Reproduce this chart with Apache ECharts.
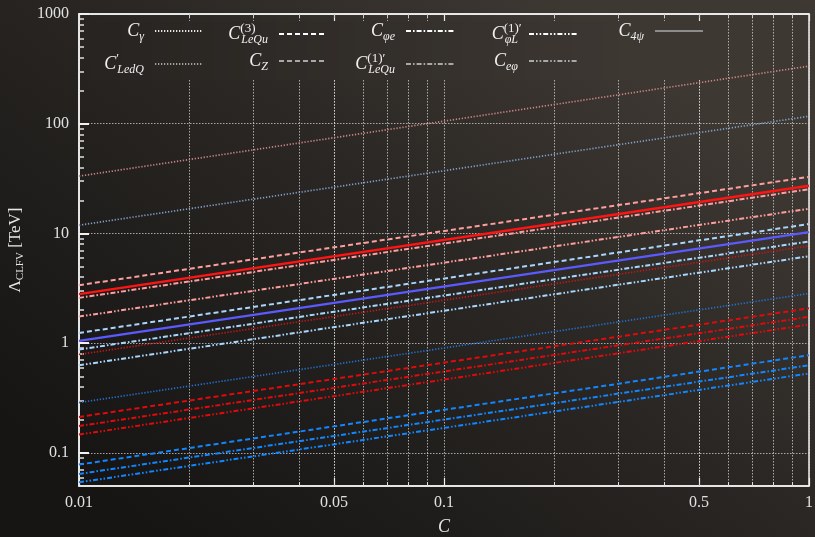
<!DOCTYPE html>
<html><head><meta charset="utf-8">
<script src="https://cdn.jsdelivr.net/npm/echarts@6/dist/echarts.min.js"></script>
<style>html,body{margin:0;padding:0;background:#1e1c1a}#chart{width:815px;height:537px}</style>
</head><body><div id="chart"></div>
<script>
// ---- data (value of Lambda_CLFV [TeV] at C = 0.01 and C = 1) ----
const cEnds = [0.01, 1];
const roseDotted      = [33.3, 335];
const steelDotted     = [11.9, 117];
const pinkDashed      = [3.38, 32.8];
const redSolid        = [2.8, 27.2];
const pinkDashDot     = [2.59, 25.3];
const pinkDashDotDot  = [1.75, 16.8];
const skyDashed       = [1.24, 12.2];
const violetSolid     = [1.05, 10.3];
const skyDashDot      = [0.877, 8.45];
const darkRedDotted   = [0.79, 7.7];
const skyDashDotDot   = [0.63, 6.2];
const blueDotted      = [0.288, 2.84];
const redDashed       = [0.213, 2.08];
const redDashDot      = [0.176, 1.74];
const redDashDotDot   = [0.147, 1.48];
const azureDashed     = [0.0784, 0.778];
const azureDashDot    = [0.0644, 0.63];
const azureDashDotDot = [0.054, 0.53];

const xLabelValues = [0.01, 0.05, 0.1, 0.5, 1];
const yLabelValues = [0.1, 1, 10, 100, 1000];
const legendRow1 = ['Cγ', 'C(3)LeQu', 'Cφe', 'C(1)′φL', 'C4ψ'];
const legendRow2 = ['C′LedQ', 'CZ', 'C(1)′LeQu', 'Ceφ'];

// ---- styles ----
const SERIF = 'Liberation Serif';
const DOT = [1.3, 1.7];
const DASH = [5, 3];
const DASHDOT = [5, 2, 1.6, 2];
const DASHDOTDOT = [5, 2, 1.6, 2, 1.6, 2];

const lines = [
  ['rose dotted', roseDotted, '#c88282', DOT, 1.7],
  ['steel dotted', steelDotted, '#7c9cc4', DOT, 1.7],
  ['pink dashed', pinkDashed, '#ff9e9e', DASH, 2],
  ['red solid', redSolid, '#ff1414', 'solid', 2.4],
  ['pink dashdot', pinkDashDot, '#ff9e9e', DASHDOT, 2],
  ['pink dashdotdot', pinkDashDotDot, '#ff9e9e', DASHDOTDOT, 2],
  ['sky dashed', skyDashed, '#a8d6ff', DASH, 2],
  ['violet solid', violetSolid, '#5a5aff', 'solid', 2.2],
  ['sky dashdot', skyDashDot, '#a8d6ff', DASHDOT, 2],
  ['darkred dotted', darkRedDotted, '#c01818', DOT, 1.7],
  ['sky dashdotdot', skyDashDotDot, '#a8d6ff', DASHDOTDOT, 2],
  ['blue dotted', blueDotted, '#226fcc', DOT, 1.7],
  ['red dashed', redDashed, '#e00a0a', DASH, 2],
  ['red dashdot', redDashDot, '#e00a0a', DASHDOT, 2],
  ['red dashdotdot', redDashDotDot, '#e00a0a', DASHDOTDOT, 2],
  ['azure dashed', azureDashed, '#1286ff', DASH, 2],
  ['azure dashdot', azureDashDot, '#1286ff', DASHDOT, 2],
  ['azure dashdotdot', azureDashDotDot, '#1286ff', DASHDOTDOT, 2]
];

const legendStyles = {
  'Cγ': ['#e6e6e6', DOT, 1.6],
  'C(3)LeQu': ['#ffffff', DASH, 2],
  'Cφe': ['#ffffff', DASHDOT, 2],
  'C(1)′φL': ['#ffffff', DASHDOTDOT, 2],
  'C4ψ': ['#8c8c8c', 'solid', 2],
  'C′LedQ': ['#a0a0a0', DOT, 1.4],
  'CZ': ['#a8a8a8', DASH, 1.4],
  'C(1)′LeQu': ['#a8a8a8', DASHDOT, 1.4],
  'Ceφ': ['#a8a8a8', DASHDOTDOT, 1.4]
};
const legendText = {
  'Cγ': '{c|C}{sub|γ}',
  'C(3)LeQu': '{c|C}{sup|(3)}{sub|LeQu}',
  'Cφe': '{c|C}{sub|φe}',
  'C(1)′φL': '{c|C}{sup|(1)′}{sub|φL}',
  'C4ψ': '{c|C}{sub|4ψ}',
  'C′LedQ': '{c|C}{sup|′}{sub|LedQ}',
  'CZ': '{c|C}{sub|Z}',
  'C(1)′LeQu': '{c|C}{sup|(1)′}{sub|LeQu}',
  'Ceφ': '{c|C}{sub|eφ}'
};
const richLegend = {
  c: {fontFamily: SERIF, fontStyle: 'italic', fontSize: 18, color: '#f0f0f0', lineHeight: 24, align: 'left'},
  sub: {fontFamily: SERIF, fontStyle: 'italic', fontSize: 12, color: '#f0f0f0', verticalAlign: 'bottom', align: 'left'},
  sup: {fontFamily: SERIF, fontSize: 13, color: '#f0f0f0', verticalAlign: 'top', width: 1, align: 'left'}
};

const W = 815, H = 537;
const bgStops = [
  {offset: 0, color: '#3e3833'},
  {offset: 0.45, color: '#282522'},
  {offset: 1, color: '#161514'}
];
// page background gradient axis (same as backgroundColor below)
const gx0 = 0.7 * W, gy0 = 0, gx1 = 0.2 * W, gy1 = H;
function hexRgb(h) { return [1, 3, 5].map(i => parseInt(h.substr(i, 2), 16)); }
function bgAt(x, y) {
  const dx = gx1 - gx0, dy = gy1 - gy0;
  let t = ((x - gx0) * dx + (y - gy0) * dy) / (dx * dx + dy * dy);
  t = Math.max(0, Math.min(1, t));
  let k = 0;
  while (k < bgStops.length - 2 && t > bgStops[k + 1].offset) k++;
  const a = bgStops[k], b = bgStops[k + 1];
  const f = (t - a.offset) / (b.offset - a.offset);
  const ca = hexRgb(a.color), cb = hexRgb(b.color);
  return 'rgb(' + ca.map((v, i) => Math.round(v + (cb[i] - v) * f)).join(',') + ')';
}
// legend frame: filled like the page background (no border), hides the grid behind the legend
const frame = {x: 90, y: 21, w: 622, h: 59};
const strips = 40;
const frameRects = [];
for (let i = 0; i < strips; i++) {
  const x0 = frame.x + Math.floor(frame.w * i / strips);
  const x1 = frame.x + Math.floor(frame.w * (i + 1) / strips);
  frameRects.push({
    type: 'rect', silent: true, z: 10,
    left: x0, top: frame.y,
    shape: {width: x1 - x0 + 0.6, height: frame.h},
    style: {fill: bgAt((x0 + x1) / 2, frame.y + frame.h / 2)}
  });
}

const iconRights = [204, 328, 455, 578, 704];
const legends = [];
legendRow1.forEach((n, i) => legends.push({row: 0, name: n, right: W - iconRights[i]}));
legendRow2.forEach((n, i) => legends.push({row: 1, name: n, right: W - iconRights[i]}));

const legendOpts = legends.map(l => ({
  data: [l.name],
  right: l.right,
  top: l.row === 0 ? 22 : 52,
  padding: 0,
  align: 'right',
  itemWidth: 48,
  itemHeight: 10,
  selectedMode: false,
  z: 12,
  itemStyle: {opacity: 0},
  formatter: n => legendText[n],
  textStyle: {color: '#f0f0f0', rich: richLegend, padding: [0, 6, 0, 0]}
}));

const series = lines.map(([name, vals, color, type, width]) => ({
  name: name,
  type: 'line',
  data: cEnds.map((c, i) => [c, vals[i]]),
  showSymbol: false,
  symbol: 'none',
  silent: true,
  lineStyle: {color: color, type: type, width: width, cap: 'butt'},
  itemStyle: {color: color},
  z: 3
}));
Object.keys(legendStyles).forEach(n => {
  const [color, type, width] = legendStyles[n];
  series.push({
    name: n, type: 'line', data: [], symbol: 'none', showSymbol: false,
    lineStyle: {color: color, type: type, width: width, cap: 'butt'},
    itemStyle: {color: color, opacity: 0}
  });
});

const gridDot = {color: 'rgba(225,225,225,0.7)', type: [1.5, 1.5], width: 1};
const fmt = v => String(+(+v).toPrecision(6));

const baseX = {type: 'log', logBase: 10, min: 0.01, max: 1};

const option = {
  animation: false,
  backgroundColor: {type: 'linear', x: 0.7, y: 0, x2: 0.2, y2: 1, colorStops: bgStops},
  grid: {left: 79, right: 6, top: 14, bottom: 51, outerBoundsMode: 'none', containLabel: false,
    show: true, borderColor: '#f2f2f2', borderWidth: 1.5, backgroundColor: 'transparent'},
  legend: legendOpts,
  graphic: frameRects,
  xAxis: [Object.assign({}, baseX, {
    position: 'bottom',
    name: 'C', nameLocation: 'middle', nameGap: 32,
    nameTextStyle: {fontFamily: SERIF, fontStyle: 'italic', fontSize: 18, color: '#e6e6e6'},
    axisLine: {show: true, lineStyle: {color: '#f2f2f2', width: 1.5}},
    axisTick: {show: true, inside: true, length: 8, customValues: xLabelValues, lineStyle: {color: '#f2f2f2', width: 1.2}},
    minorTick: {show: true, splitNumber: 9, length: 4, lineStyle: {color: '#dddddd', width: 1}},
    axisLabel: {customValues: xLabelValues, formatter: fmt, color: '#e0e0e0', fontFamily: SERIF, fontSize: 16, margin: 9},
    splitLine: {show: true, lineStyle: gridDot},
    minorSplitLine: {show: true, lineStyle: gridDot}
  }), Object.assign({}, baseX, {
    position: 'top',
    axisLine: {show: true, lineStyle: {color: '#f2f2f2', width: 1.5}},
    axisTick: {show: true, inside: true, length: 7, customValues: xLabelValues, lineStyle: {color: '#e8e8e8', width: 1.2}},
    minorTick: {show: true, splitNumber: 9, length: 4, lineStyle: {color: '#cccccc', width: 1}},
    axisLabel: {show: false},
    splitLine: {show: false},
    minorSplitLine: {show: false}
  })],
  yAxis: {
    type: 'log', logBase: 10, min: 0.05, max: 1000,
    name: '{l|Λ}{s|CLFV}{l| [TeV]}', nameLocation: 'middle', nameGap: 52, nameRotate: 90,
    nameTextStyle: {
      color: '#e6e6e6',
      rich: {
        l: {fontFamily: SERIF, fontSize: 17, color: '#e6e6e6', lineHeight: 22},
        s: {fontFamily: SERIF, fontSize: 11, color: '#e6e6e6', verticalAlign: 'bottom'}
      }
    },
    axisLine: {show: true, lineStyle: {color: '#f2f2f2', width: 1.5}},
    axisTick: {show: true, inside: true, length: 10, customValues: yLabelValues, lineStyle: {color: '#f2f2f2', width: 2}},
    minorTick: {show: true, splitNumber: 9, length: 5, lineStyle: {color: '#e0e0e0', width: 1.5}},
    axisLabel: {customValues: yLabelValues, formatter: fmt, color: '#e0e0e0', fontFamily: SERIF, fontSize: 16, margin: 10},
    splitLine: {show: true, lineStyle: gridDot},
    minorSplitLine: {show: false}
  },
  series: series
};

const chart = echarts.init(document.getElementById('chart'), null, {renderer: 'canvas'});
chart.setOption(option);
</script>
</body></html>
